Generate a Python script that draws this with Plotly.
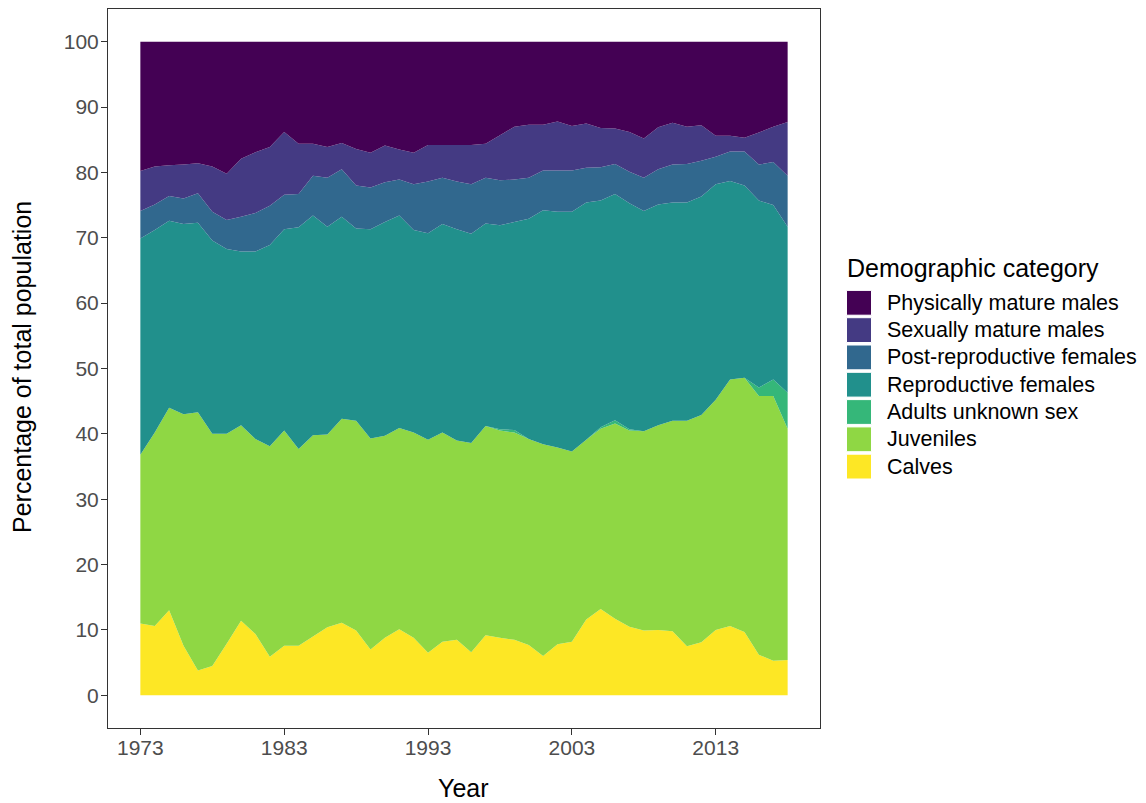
import plotly.graph_objects as go

# ---------------- data ----------------
years = list(range(1973, 2019))

calves = [11.0, 10.6, 13.0, 7.6, 3.8, 4.5, 7.9, 11.4, 9.4, 5.9,
          7.6, 7.6, 9.0, 10.4, 11.1, 9.9, 7.0, 8.8, 10.1, 8.8,
          6.5, 8.2, 8.5, 6.6, 9.2, 8.8, 8.5, 7.7, 6.0, 7.8,
          8.2, 11.6, 13.2, 11.7, 10.5, 9.9, 10.0, 9.8, 7.5, 8.1,
          10.0, 10.6, 9.7, 6.2, 5.3, 5.4]
juveniles = [25.8, 29.6, 31.0, 35.4, 39.5, 35.5, 32.1, 29.9, 29.8, 32.2,
             32.9, 30.1, 30.8, 29.5, 31.2, 32.1, 32.3, 30.9, 30.8, 31.4,
             32.6, 32.0, 30.5, 32.0, 32.0, 31.7, 31.7, 31.5, 32.4, 30.1,
             29.1, 27.5, 27.6, 29.9, 30.0, 30.5, 31.3, 32.2, 34.5, 34.8,
             35.2, 37.7, 38.9, 39.6, 40.5, 35.4]
adults_unknown_sex = [0, 0, 0, 0, 0, 0, 0, 0, 0, 0,
                      0, 0, 0, 0, 0, 0, 0, 0, 0, 0,
                      0, 0, 0, 0, 0, 0.2, 0.4, 0, 0, 0,
                      0, 0, 0.2, 0.5, 0.2, 0, 0, 0, 0, 0,
                      0, 0, 0, 1.3, 2.5, 5.5]
reproductive_females = [33.1, 31.0, 28.6, 29.1, 29.0, 29.6, 28.3, 26.6, 28.7, 30.8,
                        30.8, 33.9, 33.6, 31.8, 30.9, 29.4, 32.0, 32.7, 32.5, 31.0,
                        31.6, 31.9, 32.3, 32.0, 31.0, 31.2, 31.8, 33.7, 35.8, 36.1,
                        36.7, 36.3, 34.7, 34.6, 34.6, 33.7, 33.8, 33.4, 33.4, 33.4,
                        33.0, 30.4, 29.4, 28.6, 26.7, 25.4]
post_reproductive_females = [4.2, 3.9, 3.8, 3.9, 4.5, 4.4, 4.4, 5.3, 5.9, 6.0,
                             5.3, 5.1, 6.1, 7.5, 7.3, 6.6, 6.4, 6.1, 5.5, 7.0,
                             7.9, 7.1, 7.3, 7.6, 7.0, 6.9, 6.5, 6.3, 6.1, 6.3,
                             6.3, 5.3, 5.1, 4.6, 4.8, 5.1, 5.4, 5.8, 5.9, 5.5,
                             4.2, 4.5, 5.2, 5.5, 6.6, 7.8]
sexually_mature_males = [6.1, 5.8, 4.7, 5.2, 4.6, 6.9, 7.1, 8.9, 9.3, 9.0,
                         9.6, 7.7, 4.9, 4.7, 4.0, 5.6, 5.3, 5.6, 4.6, 4.8,
                         5.6, 5.0, 5.6, 6.0, 5.2, 6.9, 8.1, 8.1, 7.0, 7.5,
                         6.8, 6.8, 6.0, 5.4, 6.1, 6.0, 6.4, 6.4, 5.7, 5.4,
                         3.2, 2.4, 2.1, 4.9, 5.4, 8.2]
physically_mature_males = [19.8, 19.1, 18.9, 18.8, 18.6, 19.1, 20.2, 17.9, 16.9, 16.1,
                           13.8, 15.6, 15.6, 16.1, 15.5, 16.4, 17.0, 15.9, 16.5, 17.0,
                           15.8, 15.8, 15.8, 15.8, 15.6, 14.3, 13.0, 12.7, 12.7, 12.2,
                           12.9, 12.5, 13.2, 13.3, 13.8, 14.8, 13.1, 12.4, 13.0, 12.8,
                           14.4, 14.4, 14.7, 13.9, 13.0, 12.3]

# legend order (top to bottom) and colours
categories = ["Physically mature males", "Sexually mature males",
              "Post-reproductive females", "Reproductive females",
              "Adults unknown sex", "Juveniles", "Calves"]
colors = ["#440154", "#443A83", "#31688E", "#21908C",
          "#35B779", "#8FD744", "#FDE725"]
x_ticks = [1973, 1983, 1993, 2003, 2013]
y_ticks = [0, 10, 20, 30, 40, 50, 60, 70, 80, 90, 100]

series = {
    "Physically mature males": physically_mature_males,
    "Sexually mature males": sexually_mature_males,
    "Post-reproductive females": post_reproductive_females,
    "Reproductive females": reproductive_females,
    "Adults unknown sex": adults_unknown_sex,
    "Juveniles": juveniles,
    "Calves": calves,
}

# ---------------- figure ----------------
OFF = 8  # page body margin
W, H = 1146 - OFF, 803 - OFF
L, R, T, B = 100, 326, 1, 75
pw, ph = W - L - R, H - T - B

FONT = "Liberation Sans, Arial, sans-serif"

fig = go.Figure()
# stack bottom-up: calves first
for name, col in reversed(list(zip(categories, colors))):
    fig.add_trace(go.Scatter(
        x=years, y=series[name], name=name, stackgroup="one",
        mode="none", fillcolor=col, showlegend=False,
        hovertemplate="%{x}: %{y:.1f}%<extra>" + name + "</extra>",
    ))

# page-pixel -> paper coordinates
def px_x(p):
    return (p - OFF - L) / pw

def px_y(p):
    return (H - B - (p - OFF)) / ph

# ggplot-style legend
shapes = []
annotations = []
annotations.append(dict(
    text="Demographic category", xref="paper", yref="paper",
    x=px_x(845), y=px_y(268), xanchor="left", yanchor="middle",
    showarrow=False, font=dict(family=FONT, size=25, color="black")))
row0, step = 302.8, 27.3
for i, (name, col) in enumerate(zip(categories, colors)):
    cy = row0 + i * step
    shapes.append(dict(
        type="rect", xref="paper", yref="paper",
        x0=px_x(846.5), x1=px_x(871.5),
        y0=px_y(cy - 12.4), y1=px_y(cy + 12.4),
        fillcolor=col, line=dict(color="white", width=1)))
    annotations.append(dict(
        text=name, xref="paper", yref="paper",
        x=px_x(885), y=px_y(cy), xanchor="left", yanchor="middle",
        showarrow=False, font=dict(family=FONT, size=21.5, color="black")))

# axis titles
annotations.append(dict(
    text="Year", xref="paper", yref="paper", x=px_x(463), y=px_y(788),
    xanchor="center", yanchor="middle", showarrow=False,
    font=dict(family=FONT, size=25, color="black")))
annotations.append(dict(
    text="Percentage of total population", xref="paper", yref="paper",
    x=px_x(22), y=px_y(367), xanchor="center", yanchor="middle",
    textangle=-90, showarrow=False,
    font=dict(family=FONT, size=25, color="black")))

axis_common = dict(
    showgrid=False, zeroline=False, showline=True, mirror=True,
    linecolor="#333333", linewidth=1, ticks="outside", ticklen=6,
    tickwidth=1, tickcolor="#333333",
    tickfont=dict(family=FONT, size=21, color="#4D4D4D"),
)

fig.update_layout(
    width=W, height=H,
    margin=dict(l=L, r=R, t=T, b=B, pad=0),
    paper_bgcolor="white", plot_bgcolor="white",
    showlegend=False,
    xaxis=dict(range=[1970.75, 2020.25], tickvals=x_ticks,
               ticktext=[str(v) for v in x_ticks], ticklabelstandoff=-5,
               **axis_common),
    yaxis=dict(range=[-5, 105], tickvals=y_ticks,
               ticktext=[str(v) for v in y_ticks], ticklabelstandoff=-2,
               **axis_common),
    shapes=shapes,
    annotations=annotations,
)

fig.write_html("out.html")
